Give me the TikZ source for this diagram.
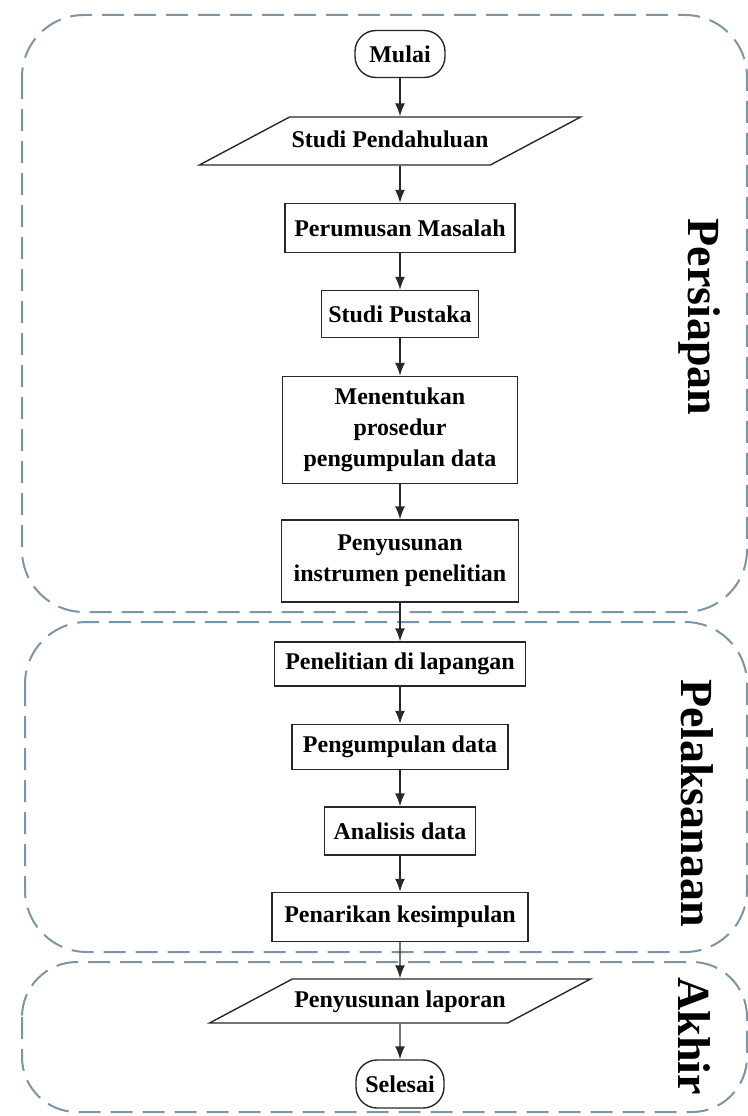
\documentclass[tikz,border=0pt]{standalone}
\usepackage{fontspec}
\setmainfont{Liberation Serif}
\usetikzlibrary{shapes.geometric,arrows.meta}
\definecolor{phaseline}{RGB}{122,150,166}
\definecolor{flowline}{RGB}{40,40,40}

\begin{document}
\begin{tikzpicture}[x=1pt,y=-1pt,
  box/.style={draw=flowline,line width=1.4pt,fill=white,inner sep=0pt,
              align=center,text=black,font=\bfseries\fontsize{24}{31}\selectfont},
  term/.style={box,rounded corners=21pt},
  io/.style={box,trapezium,trapezium left angle=28,trapezium right angle=152,
             text height=17pt,text depth=5pt,inner xsep=2pt,inner ysep=13pt},
  flowarrow/.style={draw=flowline,line width=1.4pt,-{Latex[length=13pt,width=10pt]}},
  phasebox/.style={draw=phaseline,line width=2pt,dash pattern=on 22pt off 10pt,
                   rounded corners=62pt},
  phasename/.style={rotate=-90,text=black,font=\bfseries\fontsize{46}{46}\selectfont}]

\useasboundingbox (0,0) rectangle (747,1116);

% phases

\draw[phasebox] (22,15) rectangle (747,612);
\draw[phasebox] (25,622) rectangle (747,952);
\draw[phasebox,rounded corners=55pt] (22,962) rectangle (747,1112);

\node[phasename] (persiapan) at (700,317) {Persiapan};
\node[phasename] (pelaksanaan) at (697,803) {Pelaksanaan};
\node[phasename] (akhir) at (694,1036) {Akhir};

% persiapan

\node[term,minimum width=90pt,minimum height=47pt] (mulai) at (400,54) {Mulai};
\node[io] (pendahuluan) at (390,141) {Studi Pendahuluan};
\node[box,minimum width=230pt,minimum height=49pt] (masalah) at (400,228) {Perumusan Masalah};
\node[box,minimum width=157pt,minimum height=47pt] (pustaka) at (400,314) {Studi Pustaka};
\node[box,minimum width=235pt,minimum height=107pt] (prosedur) at (400,430)
  {Menentukan\\prosedur\\pengumpulan data};
\node[box,minimum width=237pt,minimum height=82pt] (instrumen) at (400,561)
  {Penyusunan\\instrumen penelitian};

% pelaksanaan

\node[box,minimum width=251pt,minimum height=44pt] (lapangan) at (400,664) {Penelitian di lapangan};
\node[box,minimum width=216pt,minimum height=45pt] (pengumpulan) at (400,747) {Pengumpulan data};
\node[box,minimum width=151pt,minimum height=48pt] (analisis) at (400,831) {Analisis data};
\node[box,minimum width=256pt,minimum height=49pt] (kesimpulan) at (400,917) {Penarikan kesimpulan};

% akhir

\node[io,inner ysep=11pt] (laporan) at (400,1001) {Penyusunan laporan};
\node[term,minimum width=88pt,minimum height=48pt] (selesai) at (400,1084) {Selesai};

% arrows

\draw[flowarrow] (mulai.south) -- (mulai.south |- pendahuluan.north);
\draw[flowarrow] (masalah.north |- pendahuluan.south) -- (masalah.north);
\draw[flowarrow] (masalah.south) -- (pustaka.north);
\draw[flowarrow] (pustaka.south) -- (prosedur.north);
\draw[flowarrow] (prosedur.south) -- (instrumen.north);
\draw[flowarrow] (instrumen.south) -- (lapangan.north);
\draw[flowarrow] (lapangan.south) -- (pengumpulan.north);
\draw[flowarrow] (pengumpulan.south) -- (analisis.north);
\draw[flowarrow] (analisis.south) -- (kesimpulan.north);
\draw[flowarrow] (kesimpulan.south) -- (laporan.north);
\draw[flowarrow] (laporan.south) -- (selesai.north);

\end{tikzpicture}
\end{document}
